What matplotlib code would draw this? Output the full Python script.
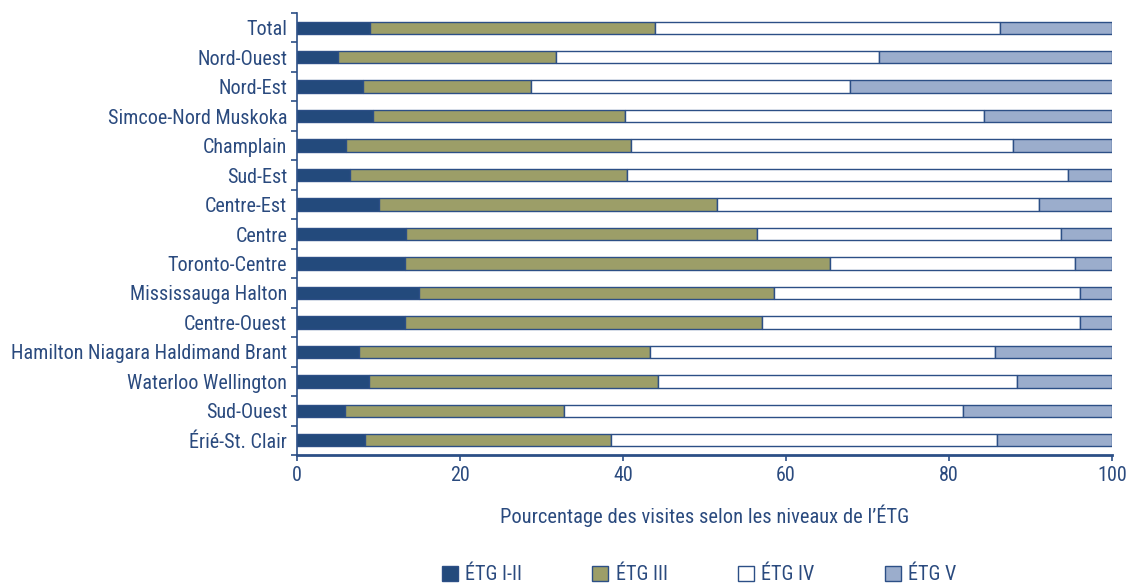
import matplotlib
matplotlib.use("Agg")
import matplotlib.pyplot as plt
import numpy as np

categories = ["Total", "Nord-Ouest", "Nord-Est", "Simcoe-Nord Muskoka", "Champlain",
              "Sud-Est", "Centre-Est", "Centre", "Toronto-Centre", "Mississauga Halton",
              "Centre-Ouest", "Hamilton Niagara Haldimand Brant", "Waterloo Wellington",
              "Sud-Ouest", "Érié-St. Clair"]
etg_1_2 = [8.9, 5.0, 8.1, 9.3, 6.0, 6.5, 10.1, 13.4, 13.2, 15.0, 13.3, 7.6, 8.8, 5.9, 8.4]
etg_3 = [35.0, 26.8, 20.6, 31.0, 35.0, 34.0, 41.4, 43.0, 52.2, 43.5, 43.8, 35.7, 35.5, 26.8, 30.1]
etg_4 = [42.3, 39.6, 39.2, 44.0, 46.8, 54.1, 39.6, 37.4, 30.0, 37.6, 39.0, 42.4, 44.1, 49.0, 47.4]
etg_5 = [13.8, 28.6, 32.2, 15.7, 12.2, 5.4, 8.9, 6.2, 4.6, 3.9, 3.9, 14.3, 11.6, 18.3, 14.1]
series_labels = ["ÉTG I-II", "ÉTG III", "ÉTG IV", "ÉTG V"]
x_ticks = [0, 20, 40, 60, 80, 100]
x_label = "Pourcentage des visites selon les niveaux de l’ÉTG"

colors = ["#234A7C", "#9C9E68", "#FFFFFF", "#9BADCC"]
edge = "#2C4F86"
txt = "#2A4A7E"

plt.rcParams['font.family'] = ['Roboto Condensed', 'PT Sans Narrow', 'IBM Plex Sans Condensed', 'DejaVu Sans']
FS = 14.5

fig = plt.figure(figsize=(11.26, 5.84), dpi=100)
ax = fig.add_axes([297/1126, 1-455/584, (1112-297)/1126, (455-13)/584])

y = np.arange(len(categories))
left = np.zeros(len(categories))
for vals, c, lab in zip([etg_1_2, etg_3, etg_4, etg_5], colors, series_labels):
    ax.barh(y, vals, left=left, height=0.42, color=c, edgecolor=edge, linewidth=1.0, label=lab)
    left += np.array(vals)

ax.set_ylim(len(categories) - 0.5, -0.5)
ax.set_xlim(0, 100)
ax.set_yticks(y)
ax.set_yticklabels(categories)
ax.set_yticks(np.arange(len(categories) + 1) - 0.5, minor=True)
ax.tick_params(axis='y', which='major', length=0, pad=7, labelsize=FS, labelcolor=txt)
ax.tick_params(axis='y', which='minor', length=4, width=1.2, color=edge, direction='out')
ax.set_xticks(x_ticks)
ax.tick_params(axis='x', length=4, width=1.2, color=edge, labelsize=FS, labelcolor=txt, pad=4)
ax.set_xlabel(x_label, fontsize=14.8, color=txt, labelpad=14)

for s in ['top', 'right']:
    ax.spines[s].set_visible(False)
ax.spines['left'].set_color(edge)
ax.spines['bottom'].set_color(edge)
ax.spines['left'].set_linewidth(1.2)
ax.spines['bottom'].set_linewidth(2.0)

leg = fig.legend(loc='center', bbox_to_anchor=(699/1126, 1-575/584), ncol=4, frameon=False,
                 fontsize=FS, handlelength=0.8, handleheight=0.8, handletextpad=0.35,
                 columnspacing=3.5, labelcolor=txt, borderpad=0)
for h in leg.legend_handles:
    h.set_edgecolor(edge)
    h.set_linewidth(1.0)

fig.savefig("out.png", dpi=100)
